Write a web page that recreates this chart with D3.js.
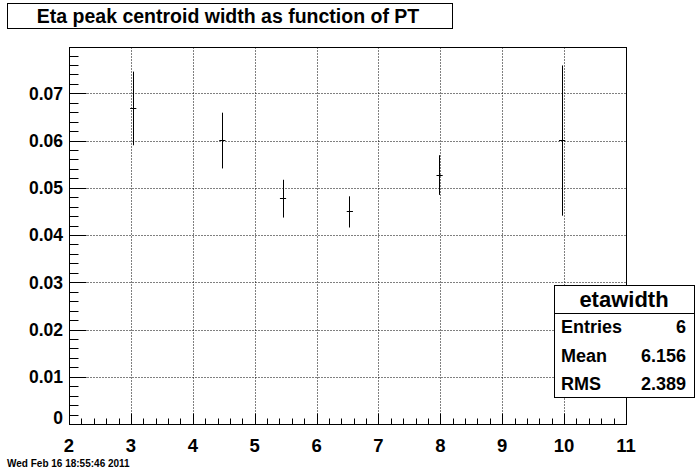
<!DOCTYPE html>
<html>
<head>
<meta charset="utf-8">
<script src="https://cdn.jsdelivr.net/npm/d3@7"></script>
<style>
  body { margin: 0; background: #fff; }
  svg { display: block; }
  text { font-family: 'Liberation Sans', Arial, sans-serif; font-weight: bold; fill: #000; }
</style>
</head>
<body>
<svg id="chart" width="696" height="472"></svg>
<script>
// bin centres (PT) and half bin width
const ptCenters = [3.03, 4.47, 5.45, 6.53, 7.98, 9.96];
const ptHalfWidth = [0.05, 0.05, 0.05, 0.05, 0.05, 0.05];
// eta peak centroid width and its error
const etaWidths = [0.0669, 0.0601, 0.0478, 0.0450, 0.0528, 0.0601];
const etaErrors = [0.0078, 0.0059, 0.0040, 0.0033, 0.0042, 0.0159];

const xTicks = [2, 3, 4, 5, 6, 7, 8, 9, 10, 11];
const yTicks = [0, 0.01, 0.02, 0.03, 0.04, 0.05, 0.06, 0.07];
const yTickLabels = ['0', '0.01', '0.02', '0.03', '0.04', '0.05', '0.06', '0.07'];

const titleText = 'Eta peak centroid width as function of PT';
const statsTitle = 'etawidth';
const statsNames = ['Entries', 'Mean', 'RMS'];
const statsValues = ['6', '6.156', '2.389'];
const dateText = 'Wed Feb 16 18:55:46 2011';

const svg = d3.select('#chart');
const frame = { left: 69, right: 626, top: 47, bottom: 424 };

const x = d3.scaleLinear().domain([2, 11]).range([frame.left, frame.right]);
const y = d3.scaleLinear().domain([0, 0.0798]).range([frame.bottom, frame.top]);

const g = svg.append('g').attr('transform', 'translate(0.5,0.5)');

// dotted grid at major ticks
g.append('g').selectAll('line')
  .data(xTicks.slice(1, -1))
  .enter().append('line')
  .attr('x1', d => Math.round(x(d))).attr('x2', d => Math.round(x(d)))
  .attr('y1', frame.top).attr('y2', frame.bottom)
  .attr('stroke', '#000').attr('stroke-dasharray', '1,2');
g.append('g').selectAll('line')
  .data(yTicks.slice(1))
  .enter().append('line')
  .attr('x1', frame.left).attr('x2', frame.right)
  .attr('y1', d => Math.round(y(d))).attr('y2', d => Math.round(y(d)))
  .attr('stroke', '#000').attr('stroke-dasharray', '1,2');

// axes: ROOT style ticks pointing into the frame
const xMinor = d3.range(2, 11.0001, 0.2);
g.append('g').selectAll('line')
  .data(xMinor)
  .enter().append('line')
  .attr('x1', d => Math.round(x(d))).attr('x2', d => Math.round(x(d)))
  .attr('y1', frame.bottom)
  .attr('y2', (d, i) => frame.bottom - (i % 5 === 0 ? 11 : 6))
  .attr('stroke', '#000');

const yMinor = d3.range(0, 0.0799, 0.002);
g.append('g').selectAll('line')
  .data(yMinor)
  .enter().append('line')
  .attr('x1', frame.left)
  .attr('x2', (d, i) => frame.left + (i % 5 === 0 ? 17 : 9))
  .attr('y1', d => Math.round(y(d))).attr('y2', d => Math.round(y(d)))
  .attr('stroke', '#000');

g.append('rect')
  .attr('x', frame.left).attr('y', frame.top)
  .attr('width', frame.right - frame.left)
  .attr('height', frame.bottom - frame.top)
  .attr('fill', 'none').attr('stroke', '#000');

svg.append('g').selectAll('text')
  .data(xTicks)
  .enter().append('text')
  .attr('x', d => x(d))
  .attr('y', 452)
  .attr('text-anchor', 'middle')
  .attr('font-size', 18.5)
  .text(d => d);

svg.append('g').selectAll('text')
  .data(yTicks)
  .enter().append('text')
  .attr('x', 63)
  .attr('y', (d, i) => y(d) + (i === 0 ? -6 : 0))
  .attr('dy', '0.36em')
  .attr('text-anchor', 'end')
  .attr('font-size', 17.5)
  .text((d, i) => yTickLabels[i]);

// error bars
const pts = g.append('g').selectAll('g')
  .data(ptCenters)
  .enter().append('g');
pts.append('line')
  .attr('x1', d => Math.round(x(d))).attr('x2', d => Math.round(x(d)))
  .attr('y1', (d, i) => y(etaWidths[i] + etaErrors[i]))
  .attr('y2', (d, i) => y(etaWidths[i] - etaErrors[i]))
  .attr('stroke', '#000');
pts.append('line')
  .attr('x1', (d, i) => x(d - ptHalfWidth[i]))
  .attr('x2', (d, i) => x(d + ptHalfWidth[i]))
  .attr('y1', (d, i) => Math.round(y(etaWidths[i])))
  .attr('y2', (d, i) => Math.round(y(etaWidths[i])))
  .attr('stroke', '#000');

// title box
g.append('rect')
  .attr('x', 7).attr('y', 3).attr('width', 445).attr('height', 25)
  .attr('fill', '#fff').attr('stroke', '#000');
svg.append('text')
  .attr('x', 228).attr('y', 23)
  .attr('text-anchor', 'middle')
  .attr('font-size', 19.5)
  .text(titleText);

// stats box
g.append('rect')
  .attr('x', 554).attr('y', 285).attr('width', 140).attr('height', 112)
  .attr('fill', '#fff').attr('stroke', '#000');
g.append('line')
  .attr('x1', 554).attr('x2', 694).attr('y1', 313).attr('y2', 313)
  .attr('stroke', '#000');
svg.append('text')
  .attr('x', 624).attr('y', 307)
  .attr('text-anchor', 'middle')
  .attr('font-size', 22)
  .text(statsTitle);
const rows = svg.append('g').selectAll('g')
  .data(statsNames)
  .enter().append('g')
  .attr('transform', (d, i) => `translate(0, ${327 + i * 28.3})`);
rows.append('text')
  .attr('x', 561).attr('dy', '0.36em')
  .attr('font-size', 18)
  .text(d => d);
rows.append('text')
  .attr('x', 686).attr('dy', '0.36em')
  .attr('text-anchor', 'end')
  .attr('font-size', 18)
  .text((d, i) => statsValues[i]);

svg.append('text')
  .attr('x', 7).attr('y', 467)
  .attr('font-size', 10)
  .text(dateText);
</script>
</body>
</html>
